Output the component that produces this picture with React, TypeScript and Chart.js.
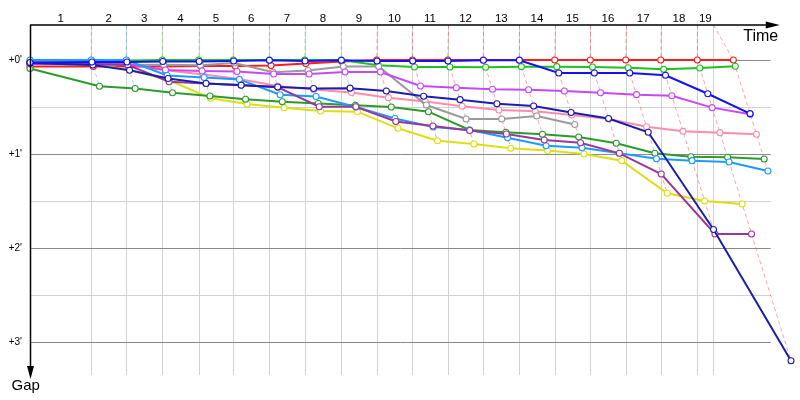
import React, { useEffect, useRef } from 'react';
import { Chart, registerables } from 'chart.js';

Chart.register(...registerables);

// ---- data ----
const lapLabels = ['1', '2', '3', '4', '5', '6', '7', '8', '9', '10', '11', '12', '13', '14', '15', '16', '17', '18', '19'];
// time (s) of each lap mark on the time axis (last one = end of race time)
const lapMarks = [125.5, 197.2, 271.0, 345.5, 416.4, 490.1, 562.6, 637.5, 710.0, 783.0, 855.5, 928.4, 1002.1, 1074.6, 1147.5, 1220.0, 1291.7, 1366.6, 1399.4];
// leader's crossing time (s) for lap 0..19
const leaderLapTimes = [0, 125.5, 197.2, 271.0, 345.5, 416.4, 490.1, 562.6, 637.5, 710.0, 783.0, 855.5, 928.4, 1002.1, 1074.6, 1147.5, 1220.0, 1291.7, 1366.6, 1440.4];
// leader of laps 1..19
const lapLeaders = ['lightBlue', 'lightBlue', 'green', 'green', 'green', 'green', 'green', 'green', 'red', 'red', 'red', 'red', 'red', 'red', 'red', 'red', 'red', 'red', 'red'];

const gapTicks = [0, 1, 2, 3];
const gapTickLabels = ["+0'", "+1'", "+2'", "+3'"];

// gaps to leader in minutes, lap 0 (start) .. last lap
const redGaps = [0.07, 0.07, 0.07, 0.07, 0.065, 0.065, 0.06, 0.037, 0.016, 0, 0, 0, 0, 0, 0, 0, 0, 0, 0, 0];
const greenGaps = [0.005, 0.005, 0.005, 0, 0, 0, 0, 0, 0, 0.055, 0.074, 0.074, 0.078, 0.071, 0.071, 0.074, 0.082, 0.1, 0.085, 0.067];
const blueGaps = [0.027, 0.021, 0.021, 0.016, 0.016, 0.011, 0.003, 0.011, 0.003, 0.011, 0.011, 0.011, 0.003, 0.003, 0.138, 0.138, 0.138, 0.163, 0.359, 0.571];
const lightBlueGaps = [0, 0, 0, 0.165, 0.186, 0.207, 0.37, 0.388, 0.5, 0.622, 0.713, 0.745, 0.827, 0.912, 0.933, 0.993, 1.05, 1.071, 1.085, 1.181];
const grayGaps = [0.043, 0.053, 0.053, 0.05, 0.056, 0.032, 0.131, 0.112, 0.069, 0.069, 0.479, 0.628, 0.628, 0.596, 0.686];
const violetGaps = [0.037, 0.037, 0.043, 0.106, 0.117, 0.122, 0.149, 0.149, 0.128, 0.128, 0.277, 0.295, 0.312, 0.316, 0.33, 0.348, 0.369, 0.38, 0.507, 0.578];
const pinkGaps = [0.021, 0.027, 0.043, 0.11, 0.154, 0.202, 0.277, 0.314, 0.346, 0.401, 0.441, 0.493, 0.532, 0.546, 0.585, 0.628, 0.71, 0.759, 0.773, 0.79];
const navyGaps = [0.032, 0.053, 0.11, 0.197, 0.25, 0.269, 0.287, 0.303, 0.3, 0.33, 0.386, 0.422, 0.465, 0.489, 0.559, 0.622, 0.769, 1.803, 3.199];
const purpleGaps = [0.032, 0.043, 0.053, 0.231, 0.25, 0.266, 0.29, 0.497, 0.497, 0.654, 0.702, 0.75, 0.787, 0.851, 0.88, 0.993, 1.213, 1.851, 1.851];
const darkGreenGaps = [0.09, 0.28, 0.303, 0.348, 0.383, 0.418, 0.444, 0.463, 0.482, 0.5, 0.55, 0.745, 0.769, 0.79, 0.819, 0.886, 0.993, 1.029, 1.035, 1.053];
const yellowGaps = [0.032, 0.043, 0.106, 0.213, 0.407, 0.468, 0.507, 0.543, 0.55, 0.727, 0.859, 0.894, 0.939, 0.963, 1.0, 1.071, 1.418, 1.5, 1.532];

const TIME_MIN = 0;
const GRID_END = 1517; // where grid lines and the time axis end
const TIME_MAX = 1566.7; // scale max (leaves room for late crossings)
const GAP_MIN = -0.372;
const GAP_MAX = 3.351;

// drawing order: first = on top
const drivers = [
  { key: 'blue', color: '#1212f2', gaps: blueGaps },
  { key: 'navy', color: '#1c1cae', gaps: navyGaps },
  { key: 'purple', color: '#9a389a', gaps: purpleGaps },
  { key: 'lightBlue', color: '#1a9cff', gaps: lightBlueGaps },
  { key: 'violet', color: '#c848f8', gaps: violetGaps },
  { key: 'gray', color: '#9a9a9a', gaps: grayGaps },
  { key: 'darkGreen', color: '#2c9a2c', gaps: darkGreenGaps },
  { key: 'pink', color: '#ff8cac', gaps: pinkGaps },
  { key: 'yellow', color: '#dede10', gaps: yellowGaps },
  { key: 'green', color: '#1ec21e', gaps: greenGaps },
  { key: 'red', color: '#ff1c1c', gaps: redGaps },
];

const crossTime = (lap: number, gap: number) => (lap === 0 ? leaderLapTimes[0] : leaderLapTimes[lap] + gap * 60);

const hexToRgba = (hex: string, a: number) => {
  const n = parseInt(hex.slice(1), 16);
  return `rgba(${(n >> 16) & 255},${(n >> 8) & 255},${n & 255},${a})`;
};

const crisp = (v: number) => Math.round(v) + 0.5;

const racePlugin = {
  id: 'raceGap',
  beforeDatasetsDraw(chart: any) {
    const { ctx, chartArea: a } = chart;
    const xs = chart.scales.x;
    const ys = chart.scales.y;
    const gridRight = xs.getPixelForValue(GRID_END);
    const line = (x1: number, y1: number, x2: number, y2: number) => {
      ctx.beginPath();
      ctx.moveTo(x1, y1);
      ctx.lineTo(x2, y2);
      ctx.stroke();
    };
    ctx.save();
    ctx.lineWidth = 1;
    ctx.strokeStyle = '#d2d2d2';
    gapTicks.forEach((t) => {
      const yy = crisp(ys.getPixelForValue(t + 0.5));
      if (yy < a.bottom) line(a.left, yy, gridRight, yy);
    });
    lapMarks.forEach((m) => {
      const xx = crisp(xs.getPixelForValue(m));
      line(xx, a.top, xx, a.bottom);
    });
    ctx.strokeStyle = '#8a8a8a';
    gapTicks.forEach((t) => {
      const yy = crisp(ys.getPixelForValue(t));
      line(a.left, yy, gridRight, yy);
    });
    // lap crossing lines
    ctx.setLineDash([4, 3]);
    lapLeaders.forEach((leaderKey, i) => {
      const lap = i + 1;
      const leader = drivers.find((d) => d.key === leaderKey)!;
      const pts = drivers
        .filter((d) => d.gaps[lap] !== undefined)
        .map((d) => ({ x: crossTime(lap, d.gaps[lap]), y: d.gaps[lap] }))
        .sort((p, q) => p.y - q.y);
      ctx.strokeStyle = hexToRgba(leader.color, 0.4);
      ctx.beginPath();
      ctx.moveTo(crisp(xs.getPixelForValue(lapMarks[i])), a.top);
      pts.forEach((p) => ctx.lineTo(xs.getPixelForValue(p.x), ys.getPixelForValue(p.y)));
      ctx.stroke();
    });
    ctx.restore();
  },
  afterDatasetsDraw(chart: any) {
    const { ctx, chartArea: a } = chart;
    const xs = chart.scales.x;
    const ys = chart.scales.y;
    const gridRight = xs.getPixelForValue(GRID_END);
    ctx.save();
    ctx.strokeStyle = '#000';
    ctx.fillStyle = '#000';
    ctx.lineWidth = 1.5;
    const top = a.top;
    const left = a.left + 0.5;
    // time axis
    ctx.beginPath();
    ctx.moveTo(a.left, top);
    ctx.lineTo(gridRight + 3, top);
    ctx.stroke();
    ctx.beginPath();
    ctx.moveTo(gridRight + 9, top);
    ctx.lineTo(gridRight - 5, top - 3.5);
    ctx.lineTo(gridRight - 5, top + 3.5);
    ctx.closePath();
    ctx.fill();
    // gap axis
    ctx.beginPath();
    ctx.moveTo(left, top);
    ctx.lineTo(left, a.bottom - 6);
    ctx.stroke();
    ctx.beginPath();
    ctx.moveTo(left, a.bottom + 4);
    ctx.lineTo(left - 3.5, a.bottom - 9);
    ctx.lineTo(left + 3.5, a.bottom - 9);
    ctx.closePath();
    ctx.fill();

    // lap labels
    ctx.font = '11.5px "Liberation Sans", Arial, sans-serif';
    ctx.textAlign = 'center';
    ctx.textBaseline = 'alphabetic';
    const bounds = [TIME_MIN, ...lapMarks];
    lapLabels.forEach((lbl, i) => {
      const x1 = xs.getPixelForValue(bounds[i]);
      const x2 = xs.getPixelForValue(bounds[i + 1]);
      ctx.fillText(lbl, (x1 + x2) / 2, top - 3.5);
    });
    // gap labels
    ctx.font = '10px "Liberation Sans", Arial, sans-serif';
    ctx.textAlign = 'right';
    ctx.textBaseline = 'middle';
    gapTicks.forEach((t, i) => {
      ctx.fillText(gapTickLabels[i], a.left - 8, ys.getPixelForValue(t));
    });
    // axis titles
    ctx.font = '16px "Liberation Sans", Arial, sans-serif';
    ctx.textAlign = 'left';
    ctx.textBaseline = 'alphabetic';
    ctx.fillText('Time', gridRight - 27.5, top + 16);
    ctx.font = '15px "Liberation Sans", Arial, sans-serif';
    ctx.fillText('Gap', a.left - 18.5, a.bottom + 15);
    ctx.restore();
  },
};

export default function App() {
  const ref = useRef<HTMLCanvasElement>(null);
  useEffect(() => {
    const datasets = drivers.map((d) => ({
      label: d.key,
      data: d.gaps.map((g, lap) => ({ x: crossTime(lap, g), y: g })),
      showLine: true,
      borderColor: d.color,
      backgroundColor: d.color,
      borderWidth: 2,
      pointRadius: 3,
      pointBorderWidth: 1.1,
      pointBackgroundColor: '#ffffff',
      pointBorderColor: d.color,
      tension: 0,
      clip: false as any,
    }));
    const chart = new Chart(ref.current!, {
      type: 'scatter',
      data: { datasets },
      options: {
        animation: false,
        responsive: false,
        maintainAspectRatio: false,
        events: [],
        layout: { padding: { left: 30, right: 5, top: 25, bottom: 25 }, autoPadding: false },
        plugins: { legend: { display: false }, tooltip: { enabled: false }, title: { display: false } },
        scales: {
          x: { type: 'linear', display: false, min: TIME_MIN, max: TIME_MAX },
          y: { type: 'linear', display: false, min: GAP_MIN, max: GAP_MAX, reverse: true },
        },
      } as any,
      plugins: [racePlugin],
    });
    return () => chart.destroy();
  }, []);
  return (
    <canvas
      ref={ref}
      width={800}
      height={400}
      style={{ position: 'fixed', left: 0, top: 0, width: 800, height: 400, background: '#fff' }}
    />
  );
}
